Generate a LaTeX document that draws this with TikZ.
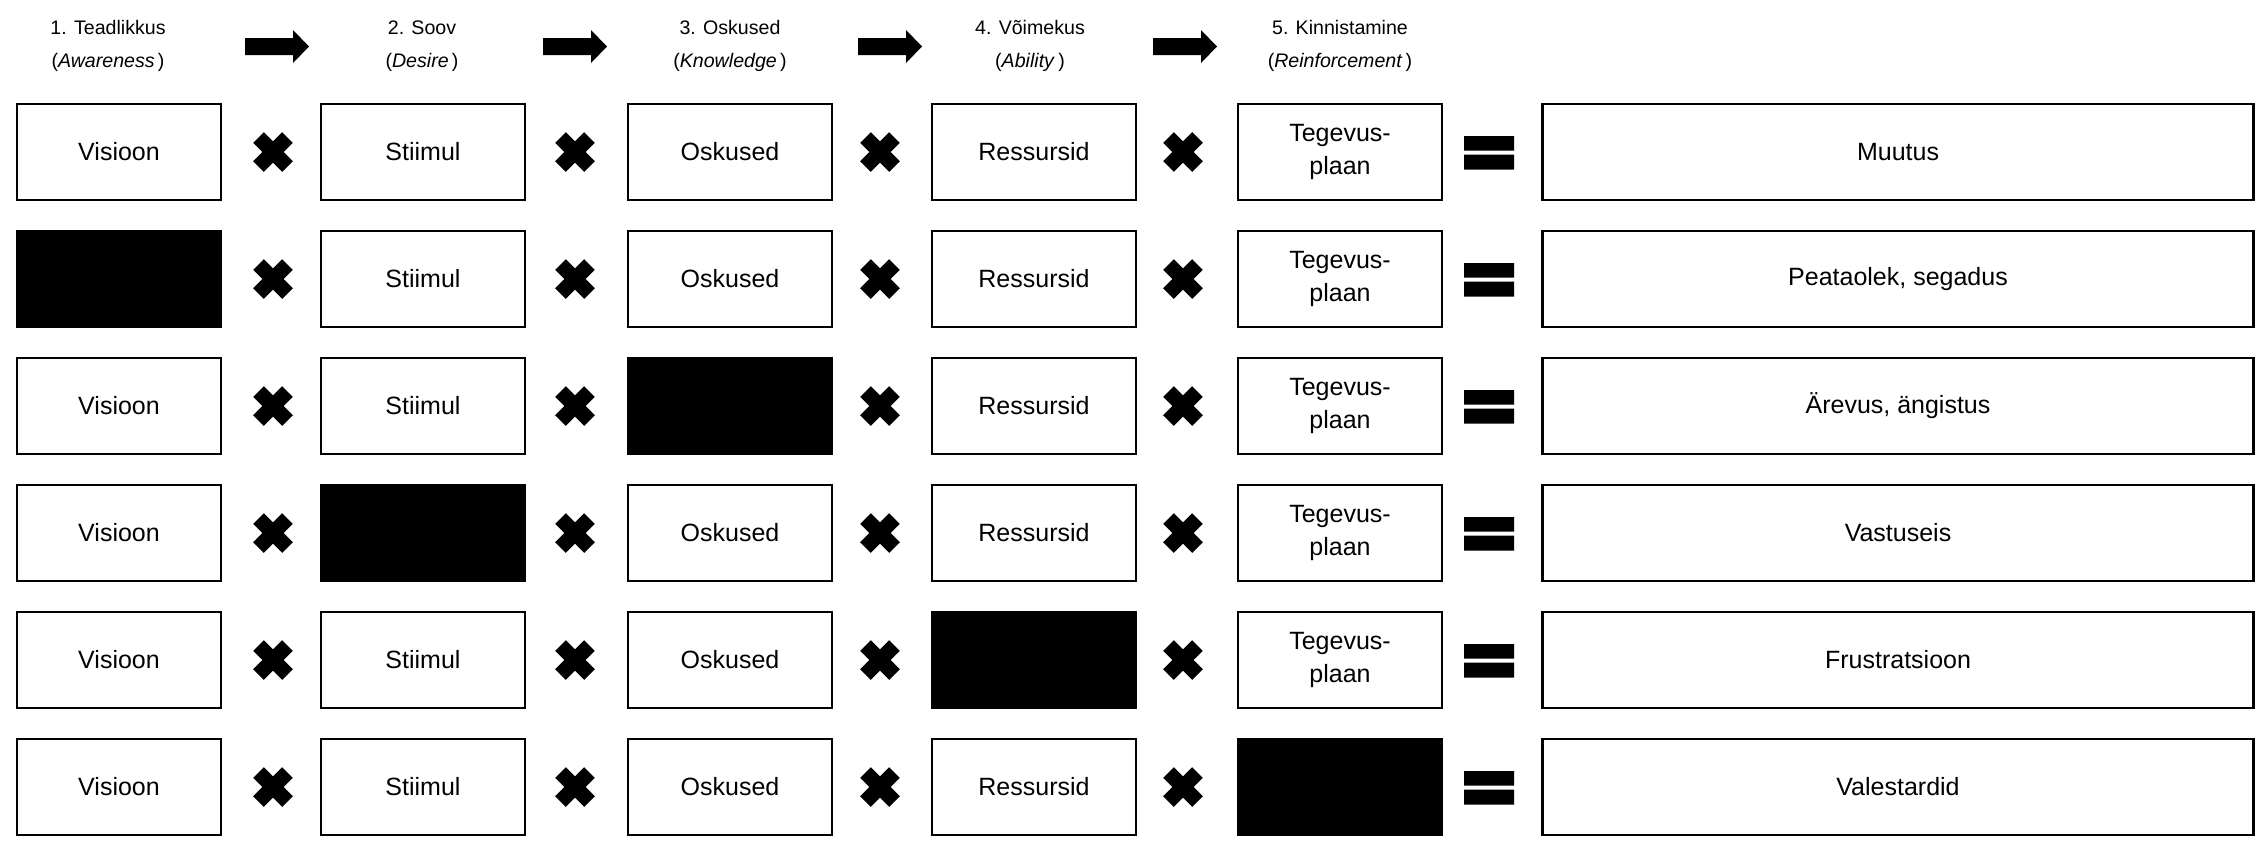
\documentclass[tikz,border=0pt]{standalone}
\usepackage{fontspec}
\setmainfont{Liberation Sans}
\tikzset{
  box/.style={draw, line width=1.25pt, minimum width=102pt, minimum height=48pt, inner sep=0pt, align=center, font=\fontsize{12.5}{16.5}\selectfont},
  blk/.style={box, fill=black},
  res/.style={box, minimum width=355.5pt},
  hdr/.style={align=center, inner sep=0pt, font=\fontsize{9.8}{16.5}\selectfont},
  blockarrow/.pic={\fill (-32,-8.5) -- (16,-8.5) -- (16,-16.5) -- (32,0) -- (16,16.5) -- (16,8.5) -- (-32,8.5) -- cycle;},
  timesmark/.pic={\draw[line width=7.5pt] (-14.5,-14.5) -- (14.5,14.5) (-14.5,14.5) -- (14.5,-14.5);},
  equalsmark/.pic={\fill (-25,-16) rectangle (25,-1.5) (-25,2.5) rectangle (25,17.5);}
}
\begin{document}
\begin{tikzpicture}[x=0.5pt,y=-0.5pt]
\useasboundingbox (0,0) rectangle (2266,843);
% headers
\node[hdr] (h1) at (108,46) {1. Teadlikkus\\(\textit{Awareness}\,)};
\node[hdr] (h2) at (422,46) {2. Soov\\(\textit{Desire}\,)};
\node[hdr] (h3) at (730,46) {3. Oskused\\(\textit{Knowledge}\,)};
\node[hdr] (h4) at (1030,46) {4. Võimekus\\(\textit{Ability}\,)};
\node[hdr] (h5) at (1340,46) {5. Kinnistamine\\(\textit{Reinforcement}\,)};
\pic at (277,46.5) {blockarrow};
\pic at (575,46.5) {blockarrow};
\pic at (890,46.5) {blockarrow};
\pic at (1185,46.5) {blockarrow};
% row 1
\node[box] (r1c1) at (119,152) {Visioon};
\node[box] (r1c2) at (423,152) {Stiimul};
\node[box] (r1c3) at (730,152) {Oskused};
\node[box] (r1c4) at (1034,152) {Ressursid};
\node[box] (r1c5) at (1340,152) {Tegevus-\\plaan};
\node[res] (r1r) at (1898,152) {Muutus};
% row 2
\node[blk] (r2c1) at (119,279) {};
\node[box] (r2c2) at (423,279) {Stiimul};
\node[box] (r2c3) at (730,279) {Oskused};
\node[box] (r2c4) at (1034,279) {Ressursid};
\node[box] (r2c5) at (1340,279) {Tegevus-\\plaan};
\node[res] (r2r) at (1898,279) {Peataolek, segadus};
% row 3
\node[box] (r3c1) at (119,406) {Visioon};
\node[box] (r3c2) at (423,406) {Stiimul};
\node[blk] (r3c3) at (730,406) {};
\node[box] (r3c4) at (1034,406) {Ressursid};
\node[box] (r3c5) at (1340,406) {Tegevus-\\plaan};
\node[res] (r3r) at (1898,406) {Ärevus, ängistus};
% row 4
\node[box] (r4c1) at (119,533) {Visioon};
\node[blk] (r4c2) at (423,533) {};
\node[box] (r4c3) at (730,533) {Oskused};
\node[box] (r4c4) at (1034,533) {Ressursid};
\node[box] (r4c5) at (1340,533) {Tegevus-\\plaan};
\node[res] (r4r) at (1898,533) {Vastuseis};
% row 5
\node[box] (r5c1) at (119,660) {Visioon};
\node[box] (r5c2) at (423,660) {Stiimul};
\node[box] (r5c3) at (730,660) {Oskused};
\node[blk] (r5c4) at (1034,660) {};
\node[box] (r5c5) at (1340,660) {Tegevus-\\plaan};
\node[res] (r5r) at (1898,660) {Frustratsioon};
% row 6
\node[box] (r6c1) at (119,787) {Visioon};
\node[box] (r6c2) at (423,787) {Stiimul};
\node[box] (r6c3) at (730,787) {Oskused};
\node[box] (r6c4) at (1034,787) {Ressursid};
\node[blk] (r6c5) at (1340,787) {};
\node[res] (r6r) at (1898,787) {Valestardid};
% operators
\foreach \y in {152,279,406,533,660,787} {
  \foreach \x in {273,575,880,1183} { \pic at (\x,\y) {timesmark}; }
  \pic at (1489,\y) {equalsmark};
}
\end{tikzpicture}
\end{document}
